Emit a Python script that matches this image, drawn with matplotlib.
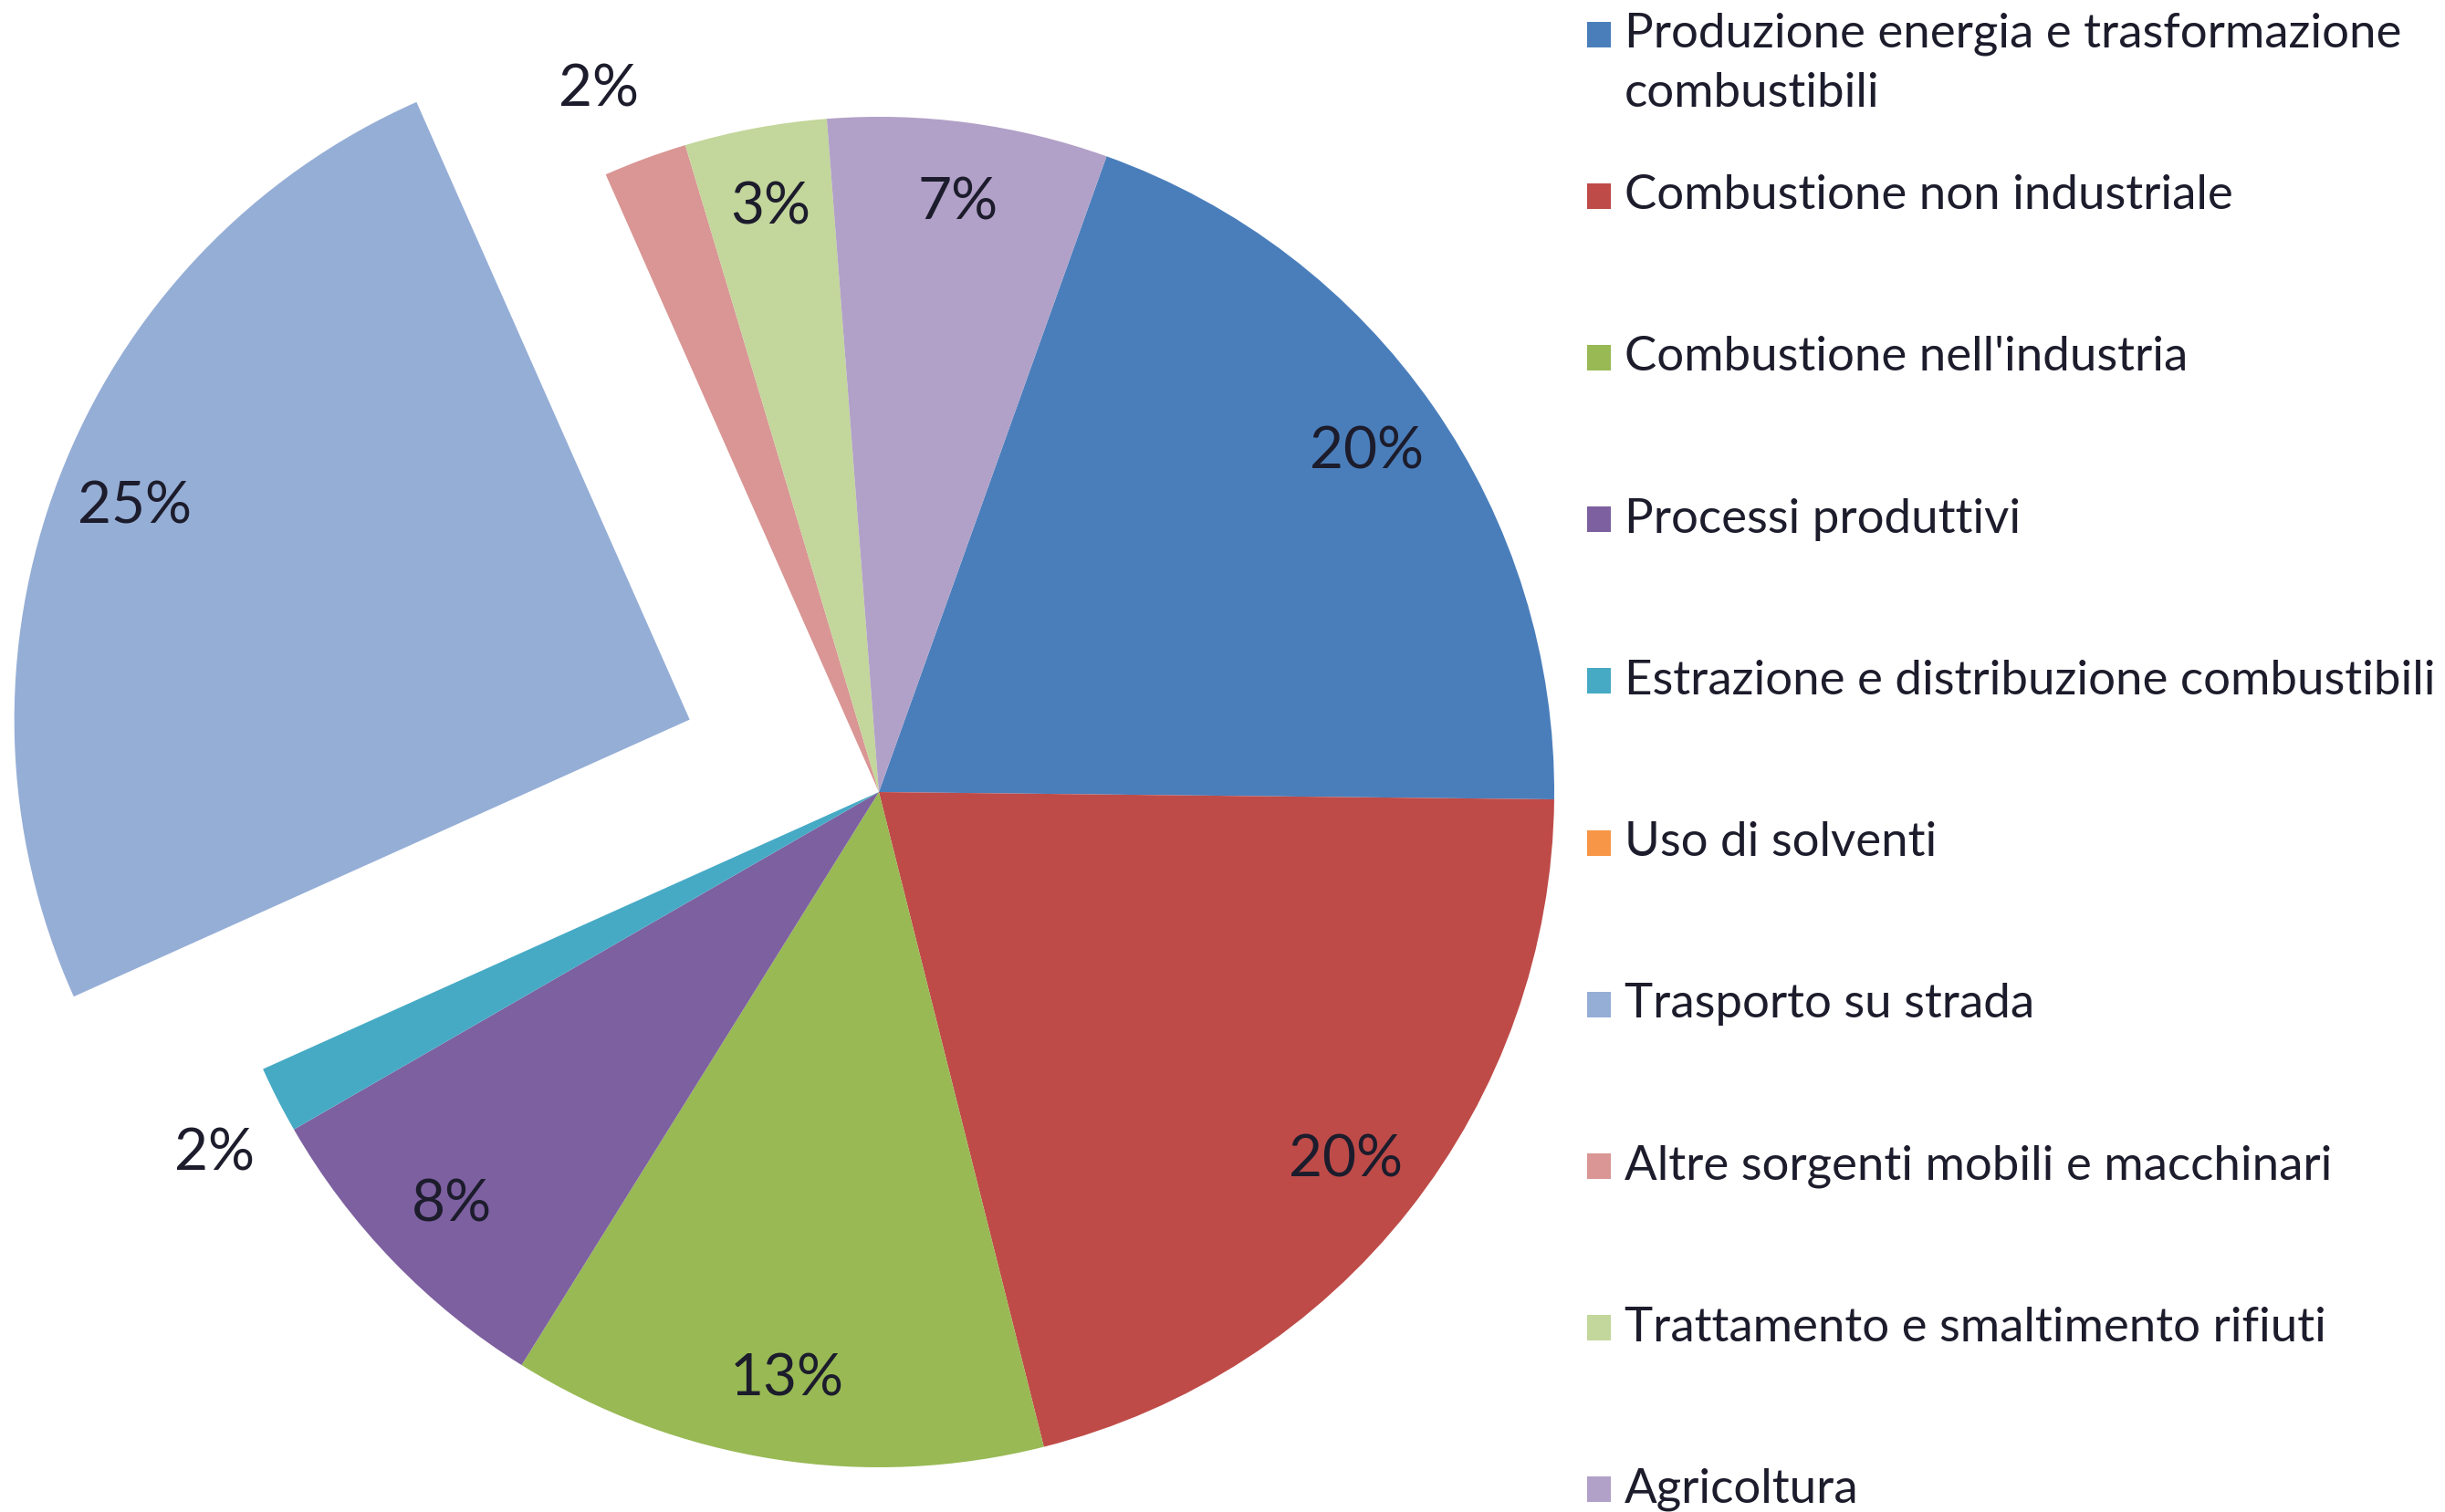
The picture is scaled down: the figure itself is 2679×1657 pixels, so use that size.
import matplotlib
matplotlib.use("Agg")
import matplotlib.pyplot as plt
from matplotlib.patches import Rectangle
import numpy as np

categories = [
    "Produzione energia e trasformazione\ncombustibili",
    "Combustione non industriale",
    "Combustione nell'industria",
    "Processi produttivi",
    "Estrazione e distribuzione combustibili",
    "Uso di solventi",
    "Trasporto su strada",
    "Altre sorgenti mobili e macchinari",
    "Trattamento e smaltimento rifiuti",
    "Agricoltura",
]
values = [19.7, 20.9, 12.8, 7.8, 1.6, 0.0, 25.1, 2.0, 3.4, 6.7]
pct_labels = ["20%", "20%", "13%", "8%", "2%", "", "25%", "2%", "3%", "7%"]
explode = [0, 0, 0, 0, 0, 0, 0.3, 0, 0, 0]
colors = ["#4A7EBB", "#BE4B48", "#98B954", "#7D60A0", "#46AAC5", "#F79646",
          "#95AED6", "#D99694", "#C3D69B", "#B1A0C7"]

W, H = 2679, 1657
DPI = 100
fig = plt.figure(figsize=(W / DPI, H / DPI), dpi=DPI)
fig.patch.set_facecolor("white")

cx, cy = 963, 868      # pie center in pixels (from top)
R = 740                # radius in pixels
ax = fig.add_axes([0, 0, 1, 1])
wedges, _ = ax.pie(values, colors=colors, startangle=70.3, counterclock=False,
                   explode=explode, radius=1.0,
                   wedgeprops=dict(linewidth=0, antialiased=True))
ax.set_xlim(-cx / R, (W - cx) / R)
ax.set_ylim(-(H - cy) / R, cy / R)
ax.set_aspect("auto")
ax.axis("off")

font = ["Lato", "DejaVu Sans"]
txtcol = "#1c1c2c"
for w, lab, v in zip(wedges, pct_labels, values):
    if not lab:
        continue
    mid = np.deg2rad((w.theta1 + w.theta2) / 2)
    if v < 2.5:
        d = 1.12
        mid += np.deg2rad(1.5)
    else:
        d = 0.88
    x = w.center[0] + d * np.cos(mid)
    y = w.center[1] + d * np.sin(mid)
    ax.text(x, y, lab, ha="center", va="center", fontsize=46,
            family=font, color=txtcol)

# Legend (manual, Excel-like): uniform entry spacing, extra lines do not add space
y0, step, line_step = 37.6, 177.2, 65
for i, (lab, c) in enumerate(zip(categories, colors)):
    yy = y0 + i * step
    fig.patches.append(Rectangle((1739 / W, 1 - (yy + 14) / H), 26 / W, 28 / H,
                                 transform=fig.transFigure, facecolor=c,
                                 edgecolor="none"))
    for k, line in enumerate(lab.split("\n")):
        fig.text(1780 / W, 1 - (yy + k * line_step) / H, line, ha="left",
                 va="center", fontsize=38, family=font, color=txtcol)

fig.savefig("out.png", dpi=DPI, facecolor="white")
